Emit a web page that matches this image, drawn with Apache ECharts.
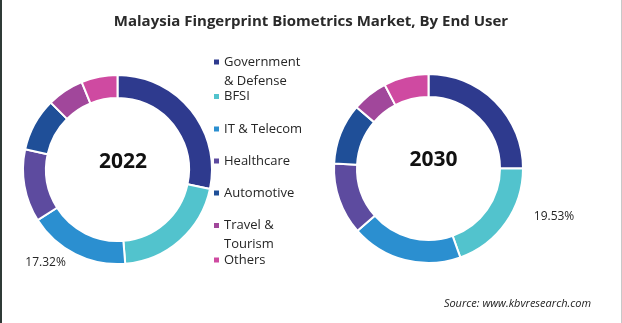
<!DOCTYPE html>
<html>
<head>
<meta charset="utf-8">
<script src="https://cdn.jsdelivr.net/npm/echarts@6/dist/echarts.min.js"></script>
<style>
html,body{margin:0;padding:0;background:#fff;}
#wrap{position:relative;width:622px;height:323px;}
#chart{position:absolute;left:0;top:0;width:622px;height:323px;}
#frame{position:absolute;left:0;top:0;width:622px;height:323px;box-sizing:border-box;border-left:2px solid #2f3a36;border-right:1px solid #c8c8c8;pointer-events:none;}
</style>
</head>
<body>
<div id="wrap"><div id="chart"></div><div id="frame"></div></div>
<script>
const categories = ['Government & Defense','BFSI','IT & Telecom','Healthcare','Automotive','Travel & Tourism','Others'];
const legendLabels = ['Government\n& Defense','BFSI','IT & Telecom','Healthcare','Automotive','Travel &\nTourism','Others'];
const values2022 = [28.3, 20.4, 17.32, 12.4, 9.1, 6.3, 6.18];
const values2030 = [25.0, 19.53, 19.0, 12.3, 10.4, 6.1, 7.67];
const years = ['2022','2030'];
const labelled2022 = 'IT & Telecom';
const labelled2030 = 'BFSI';
const colors = ['#2e3a8e','#52c3cd','#2b8fd0','#5d4b9f','#1f4f98','#a1479b','#cf4aa1'];
const sourceText = 'Source: www.kbvresearch.com';
const titleText = 'Malaysia Fingerprint Biometrics Market, By End User';

const FONT = "'Open Sans', 'DejaVu Sans', sans-serif";
const legendIconY = [62, 95.5, 128, 160, 192, 225.5, 259];
const LH = 19;
// square icon aligned with the first of two text lines (box 5 x 2*LH)
const twoLineIcon = 'path://M0,0L0.01,0L0,0.01Z M0,7L5,7L5,12L0,12Z M0,38L0.01,38L0,37.99Z';

function buildData(vals, labelledName) {
  return categories.map((c, i) => ({
    name: c,
    value: vals[i],
    label: { show: c === labelledName },
    labelLine: { show: false }
  }));
}

const chart = echarts.init(document.getElementById('chart'), null, {renderer:'canvas'});
const option = {
  animation: false,
  color: colors,
  title: [
    { text: titleText, left: 'center', top: 13, padding: 0,
      textStyle: { fontFamily: FONT, fontSize: 15, fontWeight: 'bold', color: '#2a2a2a', lineHeight: 18 } },
    { text: sourceText, right: 31, top: 297, padding: 0,
      textStyle: { fontFamily: FONT, fontSize: 11, fontStyle: 'italic', fontWeight: 'normal', color: '#222', lineHeight: 14 } }
  ],
  legend: categories.map((c, i) => {
    const twoLine = legendLabels[i].indexOf('\n') >= 0;
    return {
      data: [c],
      orient: 'vertical',
      left: 214,
      top: twoLine ? legendIconY[i] - 9.5 : legendIconY[i] - 8.5,
      padding: 0,
      itemWidth: 5,
      itemHeight: twoLine ? 2 * LH : 5,
      icon: twoLine ? twoLineIcon : 'rect',
      itemStyle: { borderWidth: 0 },
      selectedMode: false,
      formatter: () => legendLabels[i],
      textStyle: { fontFamily: FONT, fontSize: 13, color: '#262626', lineHeight: LH }
    };
  }),
  graphic: [
    { type: 'text', x: 123, y: 162, style: { text: years[0], fontFamily: FONT, fontSize: 21, fontWeight: 'bold', fill: '#111', align: 'center', verticalAlign: 'middle' } },
    { type: 'text', x: 433.5, y: 160, style: { text: years[1], fontFamily: FONT, fontSize: 21, fontWeight: 'bold', fill: '#111', align: 'center', verticalAlign: 'middle' } }
  ],
  series: [
    {
      name: years[0], type: 'pie', center: [117.5, 169.5], radius: [71.5, 94.5],
      startAngle: 90, clockwise: true, avoidLabelOverlap: false,
      itemStyle: { borderColor: '#fff', borderWidth: 2 },
      label: { position: 'outside', formatter: p => p.value.toFixed(2) + '%', fontFamily: FONT, fontSize: 12, color: '#262626', distanceToLabelLine: 5 },
      labelLine: { show: false, length: 10, length2: 0 },
      emphasis: { disabled: true },
      data: buildData(values2022, labelled2022)
    },
    {
      name: years[1], type: 'pie', center: [428.5, 168.5], radius: [71.5, 94.5],
      startAngle: 90, clockwise: true, avoidLabelOverlap: false,
      itemStyle: { borderColor: '#fff', borderWidth: 2 },
      label: { position: 'outside', formatter: p => p.value.toFixed(2) + '%', fontFamily: FONT, fontSize: 12, color: '#262626', distanceToLabelLine: 5 },
      labelLine: { show: false, length: 0, length2: 23 },
      labelLayout: { dy: -6 },
      emphasis: { disabled: true },
      data: buildData(values2030, labelled2030)
    }
  ]
};
chart.setOption(option);
</script>
</body>
</html>
